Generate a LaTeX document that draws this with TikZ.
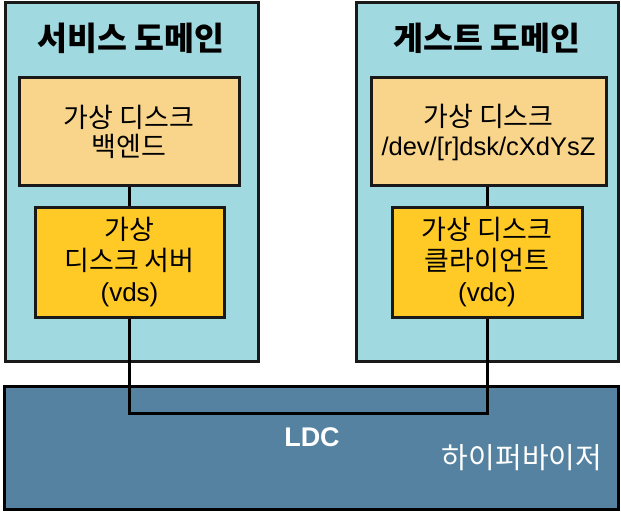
\documentclass[tikz,border=0pt]{standalone}
\usepackage{fontspec}
\setmainfont{Noto Sans CJK KR}
\newfontfamily\latinfont{Liberation Sans}
\usetikzlibrary{positioning}
\definecolor{domainfill}{RGB}{160,217,224}
\definecolor{backfill}{RGB}{248,213,138}
\definecolor{vdfill}{RGB}{255,201,38}
\definecolor{hvfill}{RGB}{84,130,160}
\definecolor{edge}{RGB}{25,25,25}

\tikzset{
  domainbox/.style={draw=edge,line width=3pt,fill=domainfill,minimum width=253pt,minimum height=358pt},
  backbox/.style={draw=edge,line width=3pt,fill=backfill,align=center,font=\fontsize{27}{29}\selectfont,inner sep=0pt},
  vdbox/.style={draw=edge,line width=3pt,fill=vdfill,align=center,font=\fontsize{27}{31}\selectfont,inner sep=0pt},
  title/.style={font=\fontsize{32.5}{34}\selectfont\bfseries},
  wire/.style={draw=black,line width=3pt}
}

\begin{document}
\begin{tikzpicture}[x=1pt,y=-1pt]
    \useasboundingbox (0,0) rectangle (621,513);

    % Hypervisor
    \node[draw=black,line width=3pt,fill=hvfill,minimum width=614pt,minimum height=123pt] (hv) at (311,448) {};
    \node[text=white,font=\fontsize{27}{29}\selectfont\bfseries\latinfont] (ldc) at (312,437) {LDC};
    \node[text=white,font=\fontsize{29}{31}\selectfont] (hvlabel) at (522,458) {하이퍼바이저};

    % Service domain
    \node[domainbox] (sdom) at (131.5,182) {};
    \node[title] (stitle) at (131,38) {서비스 도메인};
    \node[backbox,minimum width=220pt,minimum height=108pt] (sback) at (129,132) {가상 디스크\\백엔드};
    \node[vdbox,minimum width=189pt,minimum height=109pt] (vds) at (129.5,262.5) {가상\\디스크 서버\\{\latinfont\fontsize{26}{31}\selectfont(vds)}};

    % Guest domain
    \node[domainbox,minimum width=262pt] (gdom) at (487.5,182) {};
    \node[title] (gtitle) at (487,38) {게스트 도메인};
    \node[backbox,minimum width=235pt,minimum height=108pt] (gback) at (488.5,132) {가상 디스크\\{\latinfont\fontsize{25.5}{29}\selectfont /dev/[r]dsk/cXdYsZ}};
    \node[vdbox,minimum width=190pt,minimum height=109pt] (vdc) at (487,262.5) {가상 디스크\\클라이언트\\{\latinfont\fontsize{26}{31}\selectfont(vdc)}};

    % Connections
    \coordinate (bus) at (311,413);
    \draw[wire] (sback.south) -- (sback.south |- vds.north);
    \draw[wire] (gback.south -| vdc.north) -- (vdc.north);
    \draw[wire] (vds.south) |- (bus) -| (vdc.south);
\end{tikzpicture}
\end{document}
